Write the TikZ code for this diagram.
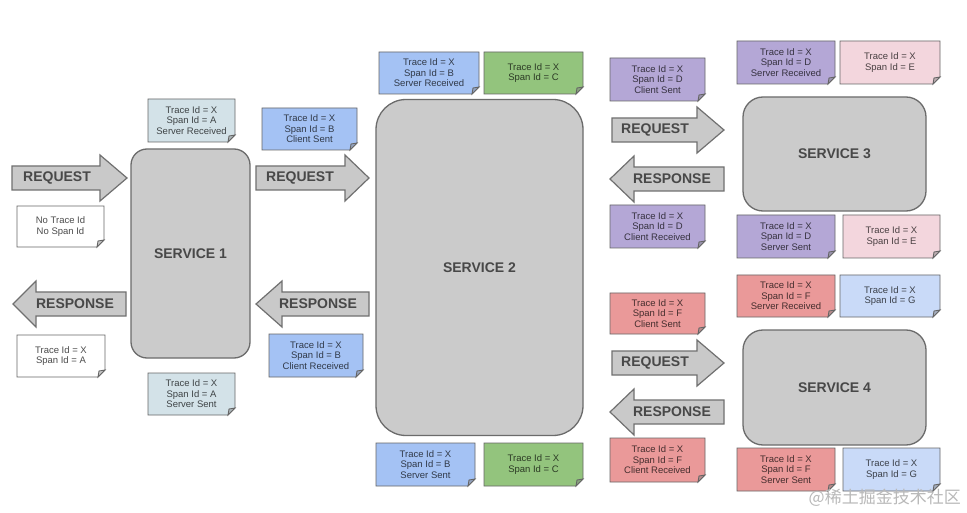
\documentclass[tikz,border=0pt]{standalone}
\usepackage{fontspec}
\setmainfont{Liberation Sans}
\newfontfamily\cjkfont{Noto Sans CJK SC}
\definecolor{cS1}{HTML}{D3E2E8}
\definecolor{cB}{HTML}{A4C2F4}
\definecolor{cC}{HTML}{93C47D}
\definecolor{cD}{HTML}{B4A7D6}
\definecolor{cE}{HTML}{F3D6DD}
\definecolor{cF}{HTML}{EA9999}
\definecolor{cG}{HTML}{C9DAF8}
\definecolor{svcfill}{HTML}{CBCBCB}
\definecolor{svcline}{HTML}{6B6B6B}
\definecolor{arrfill}{HTML}{C9C9C9}
\definecolor{arrline}{HTML}{707070}
\definecolor{labtext}{HTML}{484848}
\tikzset{
  service/.style={draw=svcline, fill=svcfill, line width=1.3pt, inner sep=0pt, outer sep=0pt,
    text=labtext, font=\bfseries\fontsize{14}{14}\selectfont},
  arrowshape/.style={draw=arrline, fill=arrfill, line width=1.2pt, line join=miter},
  arrowtext/.style={text=labtext, font=\bfseries\fontsize{14}{14}\selectfont, inner sep=0pt},
  noteline/.style={draw=black!60, line width=0.9pt},
  notetext/.style={align=center, inner sep=0pt, font=\fontsize{9.5}{10.5}\selectfont}
}
\newcommand\notebox[7]{%
  \filldraw[noteline, fill=#2] (#3,#4) -- (#5,#4) -- (#5,#6-7) -- (#5-7,#6) -- (#3,#6) -- cycle;
  \filldraw[noteline, fill=#2!55!gray] (#5,#6-7) -- (#5-7,#6) -- (#5-6,#6-6) -- cycle;
  \node[notetext, text=#2!30!black] (#1) at ({(#3+#5)/2},{(#4+#6)/2}) {#7};
}
\newcommand\rarrow[7]{%
  \filldraw[arrowshape] (#3,#6-12) -- (#4,#6-12) -- (#4,#6-23) -- (#5,#6) -- (#4,#6+23) -- (#4,#6+12) -- (#3,#6+12) -- cycle;
  \node[arrowtext] (#1) at (#7,#6) {#2};
}
\newcommand\larrow[7]{%
  \filldraw[arrowshape] (#3,#6) -- (#4,#6-23) -- (#4,#6-12) -- (#5,#6-12) -- (#5,#6+12) -- (#4,#6+12) -- (#4,#6+23) -- cycle;
  \node[arrowtext] (#1) at (#7,#6) {#2};
}
\begin{document}
\begin{tikzpicture}[x=1pt, y=-1pt]
\fill[white] (0,0) rectangle (967,513);
\useasboundingbox (0,0) rectangle (967,513);

% services
\node[service, rounded corners=16pt, minimum width=119pt, minimum height=209pt] (s1) at (190.5,253.5) {SERVICE 1};
\node[service, rounded corners=30pt, minimum width=207pt, minimum height=336pt] (s2) at (479.5,267.5) {SERVICE 2};
\node[service, rounded corners=20pt, minimum width=183pt, minimum height=114pt] (s3) at (834.5,154) {SERVICE 3};
\node[service, rounded corners=20pt, minimum width=183pt, minimum height=115pt] (s4) at (834.5,387.5) {SERVICE 4};

% arrows
\rarrow{req1}{REQUEST}{12}{100}{127}{178}{57}
\larrow{res1}{RESPONSE}{13}{36}{126}{304}{75}
\rarrow{req2}{REQUEST}{256}{345}{369}{178}{300}
\larrow{res2}{RESPONSE}{256}{282}{369}{304}{318}
\rarrow{req3}{REQUEST}{612}{697}{724}{130}{655}
\larrow{res3}{RESPONSE}{610}{634}{724}{179}{672}
\rarrow{req4}{REQUEST}{612}{697}{724}{363}{655}
\larrow{res4}{RESPONSE}{610}{634}{724}{412}{672}

% notes
\notebox{n1}{white}{17}{206}{104}{247}{No Trace Id\\No Span Id}
\notebox{n2}{cS1}{148}{99}{235}{142}{Trace Id = X\\Span Id = A\\Server Received}
\notebox{n3}{white}{17}{335}{105}{377}{Trace Id = X\\Span Id = A}
\notebox{n4}{cS1}{148}{373}{235}{415}{Trace Id = X\\Span Id = A\\Server Sent}
\notebox{n5}{cB}{262}{108}{357}{150}{Trace Id = X\\Span Id = B\\Client Sent}
\notebox{n6}{cB}{379}{52}{479}{94}{Trace Id = X\\Span Id = B\\Server Received}
\notebox{n7}{cC}{484}{52}{583}{94}{Trace Id = X\\Span Id = C}
\notebox{n8}{cB}{269}{334}{363}{377}{Trace Id = X\\Span Id = B\\Client Received}
\notebox{n9}{cB}{376}{443}{475}{486}{Trace Id = X\\Span Id = B\\Server Sent}
\notebox{n10}{cC}{484}{443}{583}{486}{Trace Id = X\\Span Id = C}
\notebox{n11}{cD}{610}{58}{705}{101}{Trace Id = X\\Span Id = D\\Client Sent}
\notebox{n12}{cD}{737}{41}{835}{84}{Trace Id = X\\Span Id = D\\Server Received}
\notebox{n13}{cE}{840}{41}{940}{84}{Trace Id = X\\Span Id = E}
\notebox{n14}{cD}{610}{205}{705}{248}{Trace Id = X\\Span Id = D\\Client Received}
\notebox{n15}{cD}{737}{215}{835}{258}{Trace Id = X\\Span Id = D\\Server Sent}
\notebox{n16}{cE}{843}{215}{940}{258}{Trace Id = X\\Span Id = E}
\notebox{n17}{cF}{610}{293}{705}{334}{Trace Id = X\\Span Id = F\\Client Sent}
\notebox{n18}{cF}{737}{275}{835}{317}{Trace Id = X\\Span Id = F\\Server Received}
\notebox{n19}{cG}{840}{275}{940}{317}{Trace Id = X\\Span Id = G}
\notebox{n20}{cF}{610}{438}{705}{482}{Trace Id = X\\Span Id = F\\Client Received}
\notebox{n21}{cF}{737}{448}{835}{491}{Trace Id = X\\Span Id = F\\Server Sent}
\notebox{n22}{cG}{843}{448}{940}{491}{Trace Id = X\\Span Id = G}

% watermark
\node[text=gray!55, font=\cjkfont\fontsize{17}{17}\selectfont, anchor=east, inner sep=0pt] (wm) at (961,498) {@稀土掘金技术社区};
\end{tikzpicture}
\end{document}
